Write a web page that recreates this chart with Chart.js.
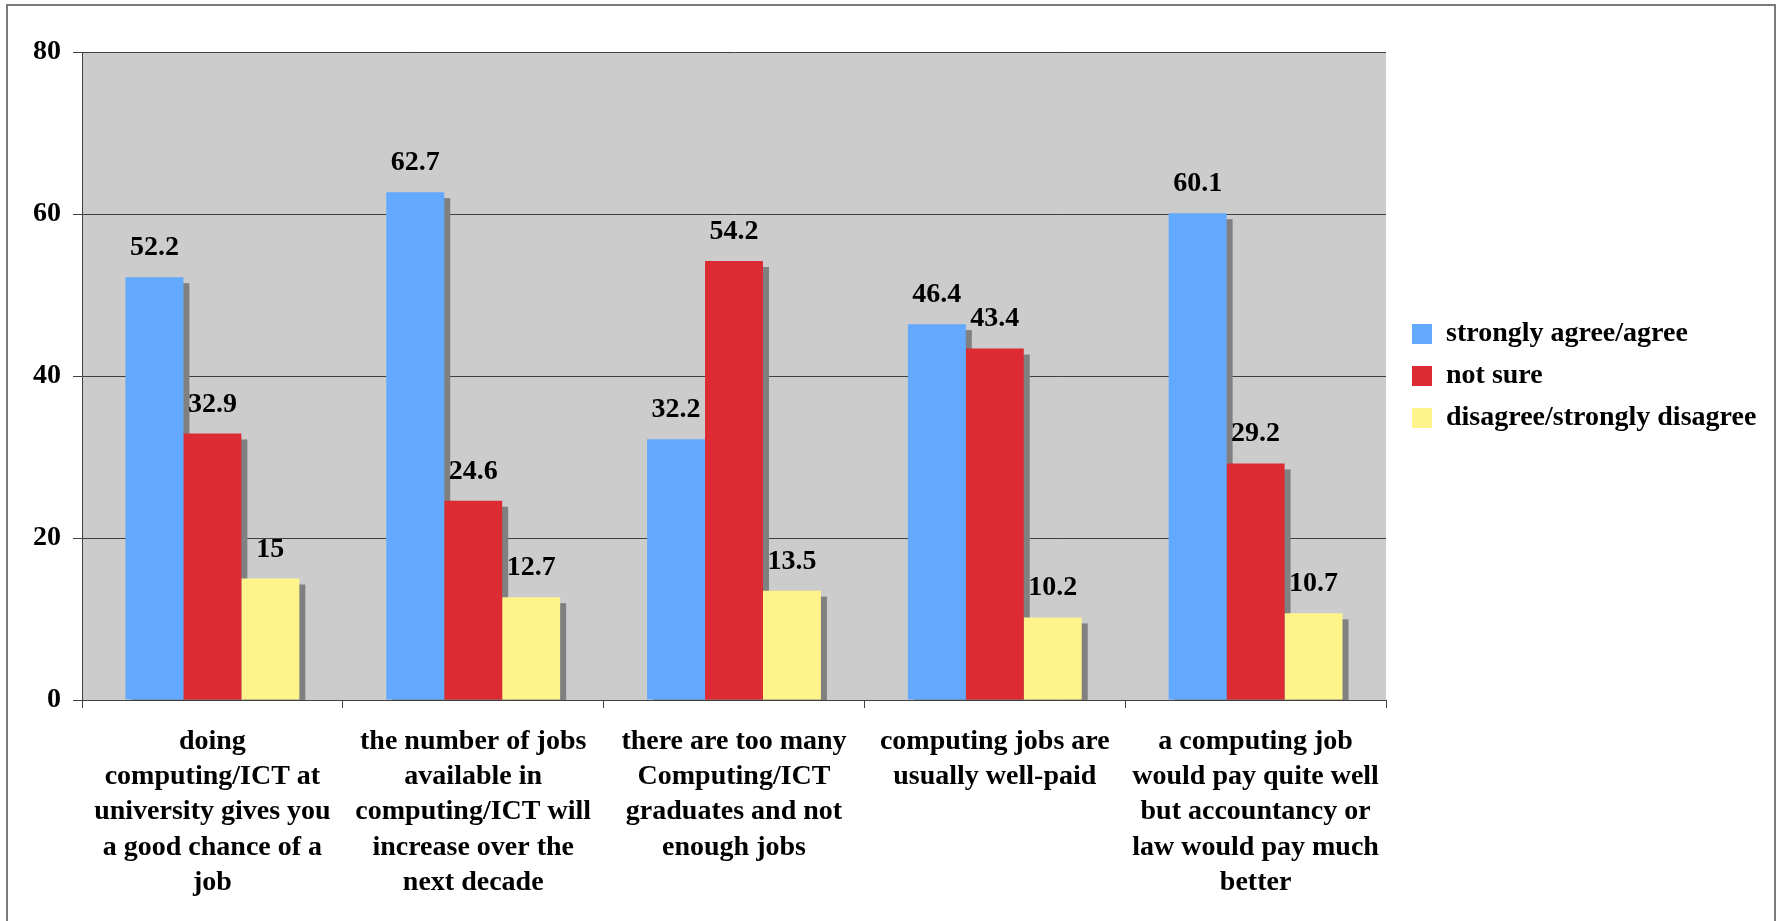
<!DOCTYPE html>
<html>
<head>
<meta charset="utf-8">
<title>Computing/ICT careers survey</title>
<script src="https://cdn.jsdelivr.net/npm/chart.js@4.4.1/dist/chart.umd.min.js"></script>
<style>
  html, body { margin: 0; padding: 0; background: #ffffff; overflow: hidden; }
  #frame {
    position: absolute; left: 6px; top: 4px; width: 1770px; height: 940px;
    border: 2px solid #7a7a7a; box-sizing: border-box; pointer-events: none;
  }
  #chart { position: absolute; left: 0; top: 0; }
</style>
</head>
<body>
<canvas id="chart" width="1780" height="921"></canvas>
<div id="frame"></div>
<script>
// Survey statements (wrapped the way they appear under the axis)
const categories = [
  ['doing', 'computing/ICT at', 'university gives you', 'a good chance of a', 'job'],
  ['the number of jobs', 'available in', 'computing/ICT will', 'increase over the', 'next decade'],
  ['there are too many', 'Computing/ICT', 'graduates and not', 'enough jobs'],
  ['computing jobs are', 'usually well-paid'],
  ['a computing job', 'would pay quite well', 'but accountancy or', 'law would pay much', 'better']
];

// Percentage of respondents per answer
const seriesNames = ['strongly agree/agree', 'not sure', 'disagree/strongly disagree'];
const agreeValues = [52.2, 62.7, 32.2, 46.4, 60.1];
const notSureValues = [32.9, 24.6, 54.2, 43.4, 29.2];
const disagreeValues = [15, 12.7, 13.5, 10.2, 10.7];

// Value axis
const yMin = 0;
const yMax = 80;
const yStep = 20;

const FONT_FAMILY = '"Liberation Serif", "Times New Roman", Times, serif';
const boldFont = { family: FONT_FAMILY, size: 28, weight: 'bold', lineHeight: 1.26 };
const AXIS_COLOR = '#404040';

// Grey plot-area background
const plotBackground = {
  id: 'plotBackground',
  beforeDraw(chart) {
    const { ctx, chartArea: a } = chart;
    ctx.save();
    ctx.fillStyle = '#cccccc';
    ctx.fillRect(a.left, a.top, a.right - a.left, a.bottom - a.top);
    ctx.restore();
  }
};

// Drop shadow to the lower right of every bar
const barShadows = {
  id: 'barShadows',
  beforeDatasetsDraw(chart) {
    const { ctx, chartArea: a } = chart;
    ctx.save();
    ctx.beginPath();
    ctx.rect(a.left, a.top, a.right - a.left, a.bottom - a.top);
    ctx.clip();
    ctx.fillStyle = '#808080';
    chart.data.datasets.forEach((ds, i) => {
      const meta = chart.getDatasetMeta(i);
      meta.data.forEach(bar => {
        const p = bar.getProps(['x', 'y', 'base', 'width'], true);
        ctx.fillRect(p.x - p.width / 2 + 6, p.y + 6, p.width, p.base - p.y);
      });
    });
    ctx.restore();
  }
};

// Value printed above each bar
const valueLabels = {
  id: 'valueLabels',
  afterDatasetsDraw(chart) {
    const { ctx } = chart;
    ctx.save();
    ctx.font = `bold 28px ${FONT_FAMILY}`;
    ctx.fillStyle = '#000000';
    ctx.textAlign = 'center';
    ctx.textBaseline = 'alphabetic';
    chart.data.datasets.forEach((ds, i) => {
      const meta = chart.getDatasetMeta(i);
      meta.data.forEach((bar, j) => {
        const p = bar.getProps(['x', 'y'], true);
        ctx.fillText(String(ds.data[j]), p.x, p.y - 22);
      });
    });
    ctx.restore();
  }
};

new Chart(document.getElementById('chart'), {
  type: 'bar',
  data: {
    labels: categories,
    datasets: [
      { label: seriesNames[0], data: agreeValues, backgroundColor: '#63a9ff' },
      { label: seriesNames[1], data: notSureValues, backgroundColor: '#dc2b33' },
      { label: seriesNames[2], data: disagreeValues, backgroundColor: '#fff48c' }
    ]
  },
  options: {
    responsive: false,
    animation: false,
    events: [],
    datasets: {
      bar: { categoryPercentage: 2 / 3, barPercentage: 1.0, borderWidth: 0 }
    },
    layout: { padding: { top: 52, left: 0, right: 22, bottom: 0 } },
    scales: {
      x: {
        offset: true,
        grid: {
          offset: true,
          drawOnChartArea: false,
          drawTicks: true,
          tickLength: 8,
          color: AXIS_COLOR,
          lineWidth: 1
        },
        border: { display: true, color: AXIS_COLOR, width: 1 },
        ticks: {
          font: boldFont,
          color: '#000000',
          padding: 16,
          maxRotation: 0,
          minRotation: 0,
          autoSkip: false
        },
        afterFit(scale) { scale.height = 221; }
      },
      y: {
        min: yMin,
        max: yMax,
        ticks: {
          stepSize: yStep,
          font: boldFont,
          color: '#000000',
          padding: 12
        },
        grid: {
          color: AXIS_COLOR,
          lineWidth: 1,
          drawTicks: true,
          tickLength: 9
        },
        border: { display: true, color: AXIS_COLOR, width: 1 },
        afterFit(scale) { scale.width = 82; }
      },
      gap: {
        type: 'linear',
        position: 'right',
        display: true,
        grid: { display: false, drawTicks: false },
        border: { display: false },
        ticks: { display: false },
        afterFit(scale) { scale.width = 12; }
      }
    },
    plugins: {
      legend: {
        position: 'right',
        align: 'center',
        fullSize: false,
        maxWidth: 360,
        labels: {
          boxWidth: 20,
          boxHeight: 20,
          padding: 14,
          color: '#000000',
          font: { family: FONT_FAMILY, size: 28, weight: 'bold' }
        }
      },
      tooltip: { enabled: false },
      title: { display: false }
    }
  },
  plugins: [plotBackground, barShadows, valueLabels]
});
</script>
</body>
</html>
